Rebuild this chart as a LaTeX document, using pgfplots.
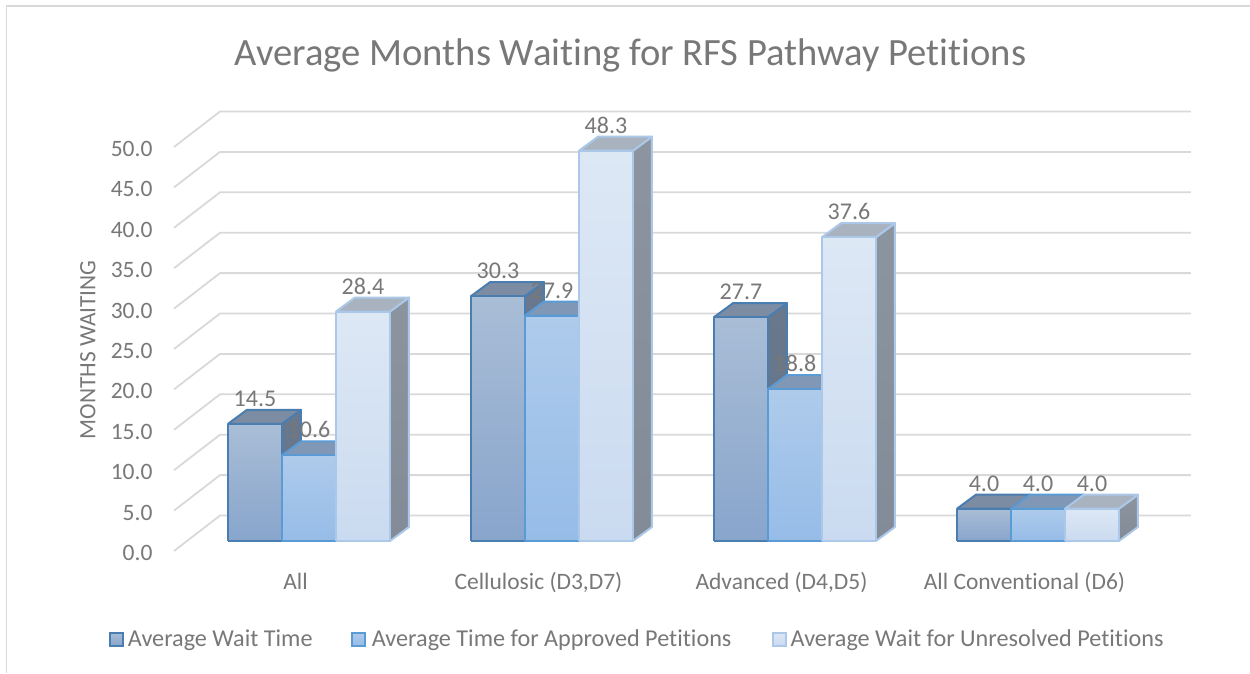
\documentclass[border=0pt]{standalone}
\usepackage{fontspec}
\setmainfont{Carlito}[Ligatures=NoCommon]
\usepackage{pgfplots}
\pgfplotsset{compat=1.18}
\usepackage{pgfplotstable}

\definecolor{txt}{HTML}{787878}
\definecolor{gridc}{HTML}{D9D9D9}

% outline, front top/bottom, lid, side top/bottom for each series
\definecolor{lineA}{HTML}{4A7EB0}
\definecolor{ftA}{HTML}{A9BDD6}
\definecolor{fbA}{HTML}{88A5CC}
\definecolor{lidA}{HTML}{7C8CA3}
\definecolor{stA}{HTML}{6A788D}
\definecolor{sbA}{HTML}{647389}
\definecolor{lineB}{HTML}{5B9BD5}
\definecolor{ftB}{HTML}{AECBEB}
\definecolor{fbB}{HTML}{96BCE8}
\definecolor{lidB}{HTML}{8098B5}
\definecolor{stB}{HTML}{73889F}
\definecolor{sbB}{HTML}{6C8199}
\definecolor{lineC}{HTML}{ACC8E8}
\definecolor{ftC}{HTML}{DDE8F5}
\definecolor{fbC}{HTML}{CADAF0}
\definecolor{lidC}{HTML}{A9B3BF}
\definecolor{stC}{HTML}{8C949F}
\definecolor{sbC}{HTML}{828B97}

\pgfplotstableread{
cat slot value
0 0 14.5
0 1 10.6
0 2 28.4
1 0 30.3
1 1 27.9
1 2 48.3
2 0 27.7
2 1 18.8
2 2 37.6
3 0 4.0
3 1 4.0
3 2 4.0
}\datatable

% #1 tick value: one wall-and-floor gridline
\newcommand{\gridline}[1]{%
  \pgfmathsetmacro{\yb}{#1+4.39}%
  \addplot[forget plot, gridc, line width=1.8pt, mark=none]
    coordinates {(-0.5,#1) (-0.3107,\yb) (3.685,\yb)};
}

% #1 category, #2 slot in group, #3 value, #4 series letter
\newcommand{\tdbar}[4]{%
  \pgfmathsetmacro{\xa}{#1-0.2778+#2*0.2222}%
  \pgfmathsetmacro{\xb}{\xa+0.2222}%
  \pgfmathsetmacro{\xc}{\xa+0.0782}%
  \pgfmathsetmacro{\xd}{\xb+0.0782}%
  \pgfmathsetmacro{\ya}{1.24}%
  \pgfmathsetmacro{\yb}{1.24+#3}%
  \pgfmathsetmacro{\yc}{\yb+1.733}%
  \pgfmathsetmacro{\yd}{\ya+1.733}%
  \addplot[forget plot, mark=none, line join=round, line width=2pt, draw=line#4, top color=st#4, bottom color=sb#4]
    coordinates {(\xb,\ya) (\xb,\yb) (\xd,\yc) (\xd,\yd) (\xb,\ya)};
  \addplot[forget plot, mark=none, line join=round, line width=2pt, draw=line#4, fill=lid#4]
    coordinates {(\xa,\yb) (\xc,\yc) (\xd,\yc) (\xb,\yb) (\xa,\yb)};
  \addplot[forget plot, mark=none, line join=round, line width=2pt, draw=line#4, top color=ft#4, bottom color=fb#4]
    coordinates {(\xa,\ya) (\xa,\yb) (\xb,\yb) (\xb,\ya) (\xa,\ya)};
}

\begin{document}
\begin{tikzpicture}[x=1pt,y=1pt]
\useasboundingbox (0,0) rectangle (1250,673);
\fill[white] (0,0) rectangle (1250,673);
\draw[gridc, line width=1.8pt] (6.5,0) -- (6.5,667) -- (1250,667);
\begin{axis}[
    at={(174pt,122pt)}, anchor=south west,
    scale only axis,
    width=972pt, height=404pt,
    clip=false,
    xmin=-0.5, xmax=3.5,
    ymin=0, ymax=50,
    axis line style={draw=none},
    tick style={draw=none},
    xtick={0,1,2,3},
    xticklabels={All, {Cellulosic (D3,D7)}, {Advanced (D4,D5)}, {All Conventional (D6)}},
    ytick={0,5,...,50},
    yticklabel={\pgfmathprintnumber[fixed, fixed zerofill, precision=1, assume math mode=true]{\tick}},
    tick label style={font=\fontsize{23.5}{26}\selectfont, text=txt},
    y tick label style={anchor=east, xshift=-18pt, yshift=-2pt},
    x tick label style={anchor=base, yshift=-38pt},
    title={Average Months Waiting for RFS Pathway Petitions},
    title style={at={(axis description cs:0.4696,1)}, anchor=center, yshift=86pt,
        font=\fontsize{38.6}{42}\selectfont, text=txt},
    ylabel={MONTHS WAITING},
    every axis y label/.style={at={(axis description cs:-0.0885,0.498)}, rotate=90, anchor=center,
        font=\fontsize{23.4}{25}\selectfont, text=txt},
    legend style={at={(axis cs:-0.769,-10.9)}, anchor=west, draw=none, fill=none,
        font=\fontsize{24.2}{27}\selectfont, text=txt, legend columns=3, inner sep=0pt, outer sep=0pt,
        /tikz/column 1/.style={column sep=2.3pt},
        /tikz/column 2/.style={column sep=36pt},
        /tikz/column 3/.style={column sep=4.3pt},
        /tikz/column 4/.style={column sep=39pt},
        /tikz/column 5/.style={column sep=1.3pt}},
    legend image code/.code={\draw[#1, line width=2pt] (0pt,-6.5pt) rectangle (13pt,6.5pt);},
]
\pgfplotsinvokeforeach{0,5,...,50}{\gridline{#1}}

\tdbar{0}{0}{14.5}{A}
\tdbar{0}{1}{10.6}{B}
\tdbar{0}{2}{28.4}{C}
\tdbar{1}{0}{30.3}{A}
\tdbar{1}{1}{27.9}{B}
\tdbar{1}{2}{48.3}{C}
\tdbar{2}{0}{27.7}{A}
\tdbar{2}{1}{18.8}{B}
\tdbar{2}{2}{37.6}{C}
\tdbar{3}{0}{4.0}{A}
\tdbar{3}{1}{4.0}{B}
\tdbar{3}{2}{4.0}{C}

% value labels sit just above the back of each lid
\addplot[forget plot, only marks, mark=none, point meta=explicit,
    nodes near coords,
    nodes near coords align={anchor=south},
    every node near coord/.append style={font=\fontsize{24}{26}\selectfont, text=txt, inner sep=0pt, yshift=3pt,
        /pgf/number format/.cd, fixed, fixed zerofill, precision=1, assume math mode=true}]
  table[x expr={\thisrow{cat}-0.2778+\thisrow{slot}*0.2222+0.1111}, y expr={\thisrow{value}+2.973}, meta=value] {\datatable};

\addlegendimage{draw=lineA, top color=ftA, bottom color=fbA}
\addlegendentry{Average Wait Time}
\addlegendimage{draw=lineB, top color=ftB, bottom color=fbB}
\addlegendentry{Average Time for Approved Petitions}
\addlegendimage{draw=lineC, top color=ftC, bottom color=fbC}
\addlegendentry{Average Wait for Unresolved Petitions}
\end{axis}
\end{tikzpicture}
\end{document}
